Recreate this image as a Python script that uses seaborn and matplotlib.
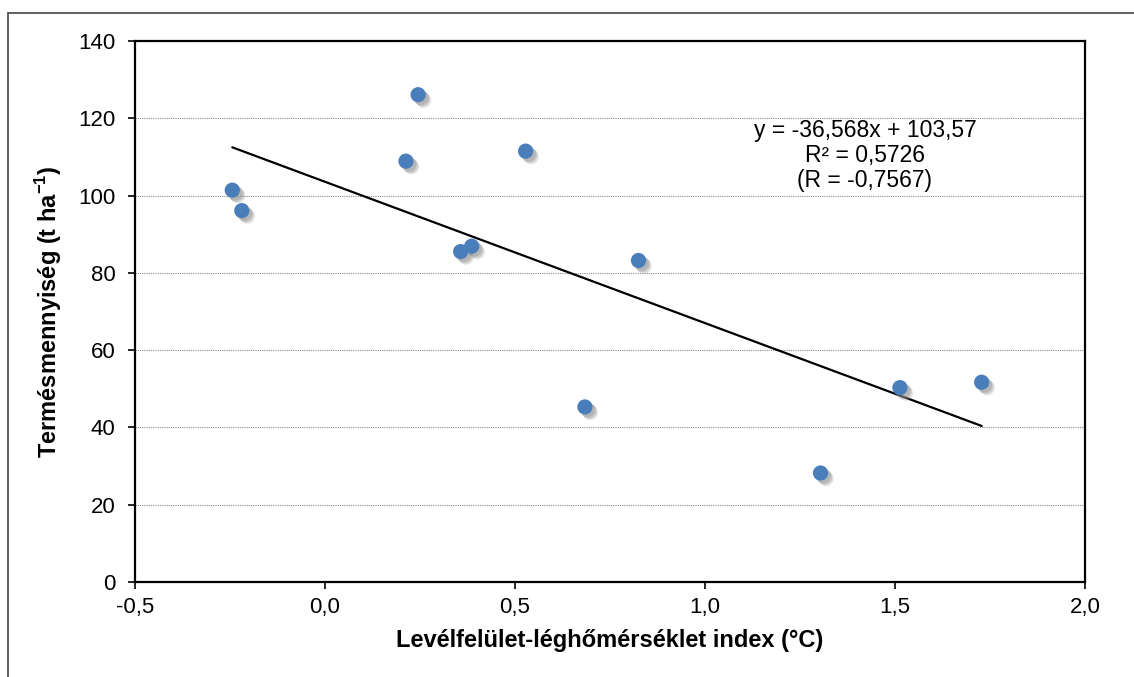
import numpy as np
import pandas as pd
import seaborn as sns
import matplotlib.pyplot as plt
import matplotlib.patheffects as pe
from matplotlib.patches import Rectangle
from matplotlib.ticker import FuncFormatter, MultipleLocator

# Data
lst_index = [-0.244, -0.219, 0.213, 0.245, 0.357, 0.386, 0.528, 0.684, 0.825, 1.304, 1.513, 1.728]
yield_t = [101.4, 96.1, 108.9, 126.1, 85.5, 86.9, 111.5, 45.3, 83.2, 28.2, 50.3, 51.7]

slope = -36.568
intercept = 103.57
r2_text = "0,5726"
r_text = "-0,7567"

df = pd.DataFrame({"x": lst_index, "y": yield_t})

sns.set_theme(style="white")
plt.rcParams["font.family"] = ["Liberation Sans", "DejaVu Sans"]
plt.rcParams["mathtext.fontset"] = "custom"
plt.rcParams["mathtext.rm"] = "Liberation Sans"
plt.rcParams["mathtext.bf"] = "Liberation Sans:bold"
plt.rcParams["text.color"] = "black"
plt.rcParams["axes.labelcolor"] = "black"

fig = plt.figure(figsize=(11.34, 6.77), dpi=100)
ax = fig.add_axes([135 / 1134, 1 - 582 / 677, 950 / 1134, 541 / 677])

# trend line from the fitted equation
x_line = np.array([min(lst_index), max(lst_index)])
trend = pd.DataFrame({"x": x_line, "y": slope * x_line + intercept})
sns.lineplot(data=trend, x="x", y="y", color="black", linewidth=1.6, ax=ax, zorder=3)

# points with a soft shadow
shadow = [pe.SimplePatchShadow(offset=(4, -4), shadow_rgbFace="#9a9a9a", alpha=0.25),
          pe.SimplePatchShadow(offset=(3, -3), shadow_rgbFace="#8a8a8a", alpha=0.3),
          pe.SimplePatchShadow(offset=(2, -2), shadow_rgbFace="#8a8a8a", alpha=0.3),
          pe.Normal()]
pts = sns.scatterplot(data=df, x="x", y="y", color="#4a7ebb", s=120,
                      edgecolor="none", ax=ax, zorder=4)
pts.collections[-1].set_path_effects(shadow)

ax.set_xlim(-0.5, 2.0)
ax.set_ylim(0, 140)
ax.xaxis.set_major_locator(MultipleLocator(0.5))
ax.yaxis.set_major_locator(MultipleLocator(20))
ax.xaxis.set_major_formatter(FuncFormatter(lambda v, p: f"{v:.1f}".replace(".", ",")))

ax.yaxis.grid(True, color="#8c8c8c", linestyle=(0, (1, 1)), linewidth=0.8)
ax.xaxis.grid(False)
ax.set_axisbelow(True)

for s in ax.spines.values():
    s.set_visible(True)
    s.set_color("black")
    s.set_linewidth(1.6)

ax.tick_params(axis="both", which="major", direction="out", length=5, width=1.2,
               color="black", labelsize=16, labelcolor="black",
               bottom=True, left=True)
ax.tick_params(axis="y", pad=9)
ax.tick_params(axis="x", pad=6)

ax.set_xlabel("Levélfelület-léghőmérséklet index (°C)", fontsize=17,
              fontweight="bold", labelpad=8)
ax.set_ylabel(r"Termésmennyiség (t ha$^{\mathbf{-1}}$)", fontsize=17,
              fontweight="bold", labelpad=10)

eq = (f"y = {slope:.3f}x + {intercept:.2f}".replace(".", ",")
      + f"\nR² = {r2_text}\n(R = {r_text})")
ax.text(1.421, 110.3, eq, ha="center", va="center", fontsize=16.5,
        linespacing=1.1, zorder=5)

# outer chart frame
fig.patches.append(Rectangle((8 / 1134, -0.1), 1.2, 1.1 - 13 / 677,
                             transform=fig.transFigure, fill=False,
                             edgecolor="#555555", linewidth=1.3))

fig.savefig("out.png", dpi=100)
